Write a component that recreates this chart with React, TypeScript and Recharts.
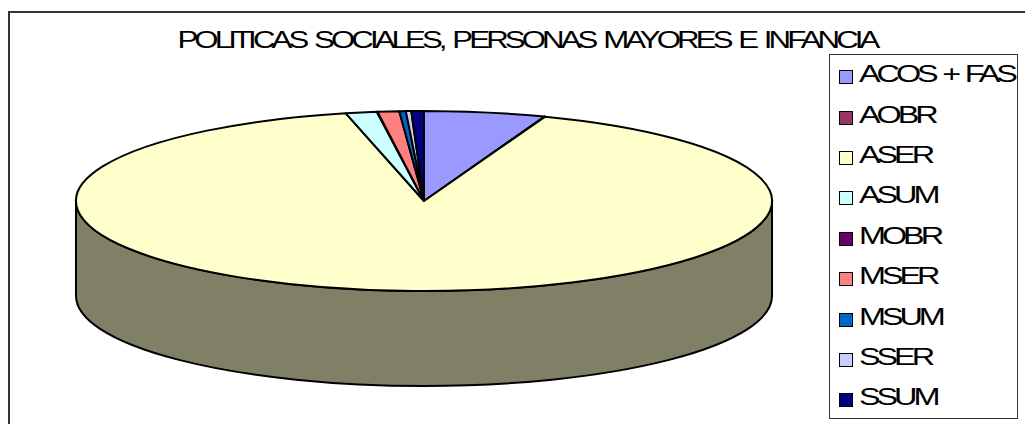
import React from 'react';
import { PieChart, Pie, Cell, Legend } from 'recharts';

const categories = ['ACOS + FAS', 'AOBR', 'ASER', 'ASUM', 'MOBR', 'MSER', 'MSUM', 'SSER', 'SSUM'];
const values = [5.62, 0.03, 90.57, 1.44, 0.03, 1.0, 0.3, 0.25, 0.58];
const colors = ['#9999FF', '#993366', '#FFFFCC', '#CCFFFF', '#660066', '#FF8080', '#0066CC', '#CCCCFF', '#000080'];

const data = categories.map((name, i) => ({ name, value: values[i] }));

const WIDTH = 1025;
const HEIGHT = 424;
const TILT = 90 / 348; // vertical squash of the pie
const DEPTH = 95;
const WALL = '#808066';

const rad = (deg: number) => (deg * Math.PI) / 180;

// Pie sector squashed to an ellipse, with a side wall where it faces the viewer
const Sector3D = (props: any) => {
    const { cx, cy, outerRadius, startAngle, endAngle, fill } = props;
    const rx = outerRadius;
    const ry = outerRadius * TILT;
    const pt = (a: number, dy = 0) => `${cx + rx * Math.cos(rad(a))} ${cy - ry * Math.sin(rad(a)) + dy}`;
    const large = Math.abs(endAngle - startAngle) > 180 ? 1 : 0;

    // Recharts angles run downward from 90 to -270; the front half is -180..0
    const wallStart = Math.min(startAngle, 0);
    const wallEnd = Math.max(endAngle, -180);
    return (
        <g>
            {wallStart > wallEnd && (
                <path
                    d={`M ${pt(wallStart)} L ${pt(wallStart, DEPTH)} A ${rx} ${ry} 0 0 1 ${pt(wallEnd, DEPTH)} L ${pt(wallEnd)} A ${rx} ${ry} 0 0 0 ${pt(wallStart)} Z`}
                    fill={WALL}
                    stroke="#000"
                    strokeWidth={2}
                />
            )}
            <path
                d={`M ${cx} ${cy} L ${pt(startAngle)} A ${rx} ${ry} 0 ${large} 1 ${pt(endAngle)} Z`}
                fill={fill}
                stroke="#000"
                strokeWidth={2}
                strokeLinejoin="round"
            />
        </g>
    );
};

const LegendBox = ({ payload }: any) => (
    <div style={{ width: 189, height: 365, boxSizing: 'border-box', border: '1px solid #333', background: '#fff', paddingTop: 2 }}>
        {(payload || []).map((entry: any) => (
            <div key={entry.value} style={{ height: 40.4, display: 'flex', alignItems: 'center', paddingLeft: 9 }}>
                <span style={{ width: 14, height: 14, boxSizing: 'border-box', border: '1.5px solid #000', background: entry.color, marginRight: 6, flex: 'none' }} />
                <span style={{ fontFamily: 'Liberation Sans', fontSize: 24, letterSpacing: -3, wordSpacing: 2, color: '#000', whiteSpace: 'nowrap', transform: 'scaleX(1.35) translateY(-3px)', transformOrigin: 'left center' }}>{entry.value}</span>
            </div>
        ))}
    </div>
);

export default function App() {
    return (
        <div style={{ position: 'absolute', left: 0, top: 0, width: WIDTH, height: HEIGHT, background: '#fff', overflow: 'hidden' }}>
            <div style={{ position: 'absolute', left: 8, top: 11, width: 1040, height: 440, border: '2px solid #333' }} />
            <div style={{ position: 'absolute', left: 0, top: 25, width: 1054, textAlign: 'center', fontFamily: 'Liberation Sans', fontSize: 24, letterSpacing: -3, wordSpacing: 3, lineHeight: '30px', color: '#000', whiteSpace: 'nowrap', transform: 'scaleX(1.3)', transformOrigin: '527px center' }}>
                POLITICAS SOCIALES, PERSONAS MAYORES E INFANCIA
            </div>
            <PieChart width={WIDTH} height={HEIGHT} margin={{ top: 0, right: 0, bottom: 0, left: 0 }} style={{ position: 'absolute', left: 0, top: 0 }}>
                <Pie
                    data={data}
                    dataKey="value"
                    nameKey="name"
                    cx={424}
                    cy={201}
                    outerRadius={348}
                    startAngle={90}
                    endAngle={-270}
                    shape={Sector3D}
                    isAnimationActive={false}
                >
                    {data.map((entry, index) => (
                        <Cell key={`cell-${index}`} fill={colors[index]} />
                    ))}
                </Pie>
                <Legend content={LegendBox} wrapperStyle={{ position: 'absolute', left: 829, top: 54, width: 189, height: 365, bottom: 'auto', right: 'auto' }} />
            </PieChart>
        </div>
    );
}
